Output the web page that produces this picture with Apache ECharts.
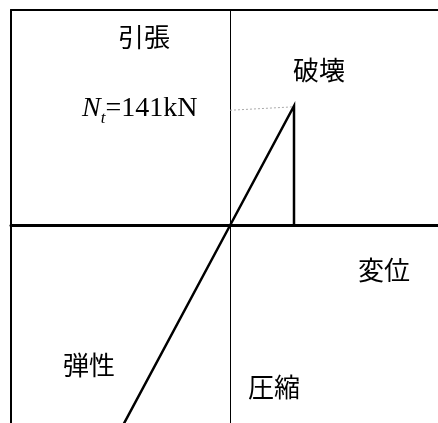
<!DOCTYPE html>
<html>
<head>
<meta charset="utf-8">
<script src="https://cdn.jsdelivr.net/npm/echarts@6/dist/echarts.min.js"></script>
<style>
  html, body { margin: 0; padding: 0; background: #fff; }
  #chart { width: 438px; height: 423px; }
</style>
</head>
<body>
<div id="chart"></div>
<script>
// 荷重-変位関係 (displacement in units of failure displacement, force in kN)
const dispLine = [-1.66, 0, 1, 1];
const forceLine = [-234, 0, 141, 0];
const dispGuide = [0, 0.98];
const forceGuide = [136, 140];
const failForce = 141;

const xRange = [-3.422, 3.25];
const yRange = [-233.0, 254.3];

var myChart = echarts.init(document.getElementById('chart'));

const jp = '"Noto Sans CJK JP", sans-serif';
const serif = '"Liberation Serif", "DejaVu Serif", serif';

const hidden = {
  axisTick: { show: false },
  axisLabel: { show: false },
  splitLine: { show: false }
};

let option = {
  animation: false,
  grid: { left: 11, top: 10, right: 0, bottom: 0 },
  xAxis: [
    { // 変位軸
      type: 'value',
      min: xRange[0], max: xRange[1],
      axisLine: { show: true, onZero: true, onZeroAxisIndex: 0, lineStyle: { color: '#000', width: 3 } },
      ...hidden
    },
    { // 上枠
      type: 'value', position: 'top',
      min: xRange[0], max: xRange[1],
      axisLine: { show: true, onZero: false, lineStyle: { color: '#000', width: 2 } },
      ...hidden
    }
  ],
  yAxis: [
    { // 荷重軸
      type: 'value',
      min: yRange[0], max: yRange[1],
      axisLine: { show: true, onZero: true, onZeroAxisIndex: 0, lineStyle: { color: '#000', width: 1 } },
      ...hidden
    },
    { // 左枠
      type: 'value', position: 'left',
      min: yRange[0], max: yRange[1],
      axisLine: { show: true, onZero: false, lineStyle: { color: '#000', width: 2 } },
      ...hidden
    }
  ],
  series: [
    {
      name: 'guide',
      type: 'line',
      data: dispGuide.map((d, i) => [d, forceGuide[i]]),
      symbol: 'none',
      lineStyle: { color: '#aaa', width: 1, type: [2, 2] },
      z: 3
    },
    {
      name: 'elastic',
      type: 'line',
      data: dispLine.map((d, i) => [d, forceLine[i]]),
      symbol: 'none',
      lineStyle: { color: '#000', width: 2.5, cap: 'butt', join: 'miter' },
      z: 4
    }
  ],
  graphic: [
    { type: 'text', left: 118, top: 24, style: { text: '引張', font: '26px ' + jp, fill: '#000' } },
    { type: 'text', left: 293, top: 57, style: { text: '破壊', font: '26px ' + jp, fill: '#000' } },
    { type: 'text', left: 358, top: 257, style: { text: '変位', font: '26px ' + jp, fill: '#000' } },
    { type: 'text', left: 63, top: 352, style: { text: '弾性', font: '26px ' + jp, fill: '#000' } },
    { type: 'text', left: 248, top: 374, style: { text: '圧縮', font: '26px ' + jp, fill: '#000' } },
    {
      type: 'text', left: 82, top: 95,
      style: {
        text: '{n|N}{t|t}{r|=' + failForce + 'kN}',
        fill: '#000',
        rich: {
          n: { fontFamily: serif, fontSize: 28, fontStyle: 'italic', verticalAlign: 'bottom' },
          t: { fontFamily: serif, fontSize: 17, fontStyle: 'italic', verticalAlign: 'bottom', padding: [0, 0, -4, 0] },
          r: { fontFamily: serif, fontSize: 28, verticalAlign: 'bottom' }
        }
      }
    }
  ]
};

option && myChart.setOption(option);
</script>
</body>
</html>
